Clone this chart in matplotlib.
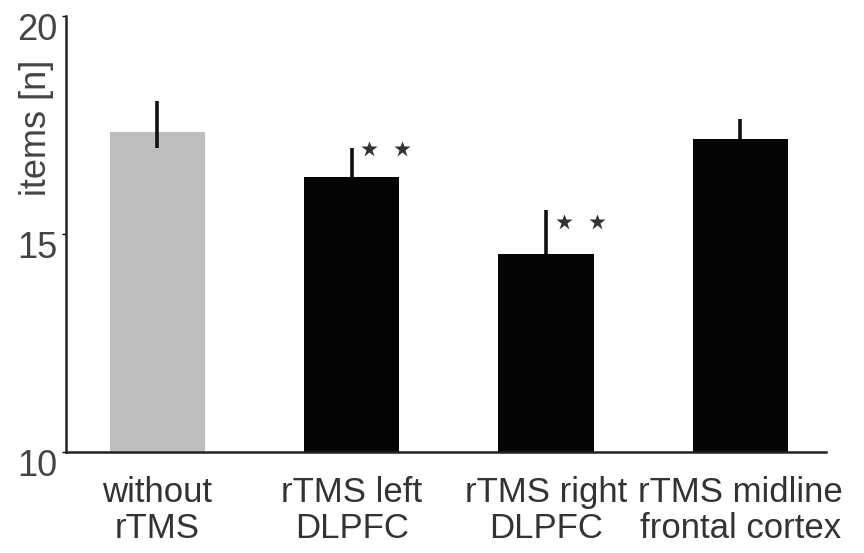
"""
Bar chart: recalled items with and without rTMS over different sites.
"""

import numpy as np
import matplotlib.pyplot as plt
import matplotlib.transforms as mtransforms

plt.rcParams['font.family'] = ['Liberation Sans', 'DejaVu Sans']

conditions = ['without\nrTMS', 'rTMS left\nDLPFC', 'rTMS right\nDLPFC',
              'rTMS midline\nfrontal cortex']
means = [17.35, 16.3, 14.55, 17.18]
err_up = [0.7, 0.67, 1.0, 0.46]
err_down = [0.37, 0.0, 0.0, 0.0]
bar_colors = ['#bdbdbd', '#050505', '#050505', '#050505']
# significance stars: (bar index, y position)
stars = [(1, 16.95), (2, 15.28)]

TEXT = '#333333'

fig = plt.figure(figsize=(8.64, 5.53), dpi=100)
ax = fig.add_axes([0.0764, 0.1826, 0.8796, 0.7884])

x = np.arange(len(conditions))
ax.bar(x, means, width=0.49, color=bar_colors, zorder=1)
ax.errorbar(x, means, yerr=[err_down, err_up], fmt='none',
            ecolor='#111111', elinewidth=2.6, capsize=0, zorder=2)
for i, ys in stars:
    for dx in (0.09, 0.26):
        ax.plot(i + dx, ys, marker='*', color='#333333', ms=12, mec='none')

ax.set_xlim(-0.47, 3.44)
ax.set_ylim(10, 20)
ax.set_yticks([10, 15, 20])
ax.set_xticks(x)
ax.set_xticklabels(conditions, fontsize=25, color=TEXT, linespacing=1.12)
ax.tick_params(axis='x', length=0, pad=17)
ax.tick_params(axis='y', length=3, width=1, labelsize=26, labelcolor='#444444', pad=3)
# y tick labels sit a bit below their ticks in the original
shift = mtransforms.ScaledTranslation(0, -10 / 100, fig.dpi_scale_trans)
for lab in ax.get_yticklabels():
    lab.set_transform(lab.get_transform() + shift)
ax.set_ylabel('items [n]', fontsize=26, color='#444444')
ax.yaxis.set_label_coords(-0.016, 0.743)
for side in ('top', 'right'):
    ax.spines[side].set_visible(False)
for side in ('left', 'bottom'):
    ax.spines[side].set_linewidth(1.8)
    ax.spines[side].set_color('#222222')

fig.savefig('out.png', dpi=100)
